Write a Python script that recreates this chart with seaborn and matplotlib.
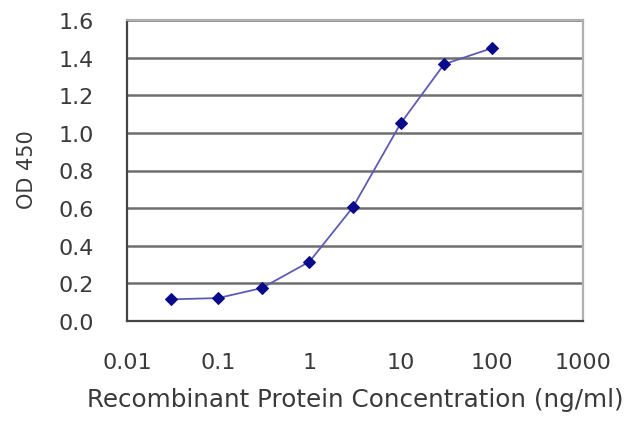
import matplotlib
matplotlib.use("Agg")
import matplotlib.pyplot as plt
import seaborn as sb
import pandas as pd
from matplotlib.ticker import FixedLocator, FixedFormatter, NullLocator

# values
concentration = [0.03, 0.1, 0.3, 1, 3, 10, 30, 100]
od450 = [0.115, 0.122, 0.175, 0.315, 0.605, 1.05, 1.365, 1.45]
x_ticks = [0.01, 0.1, 1, 10, 100, 1000]
x_tick_labels = ["0.01", "0.1", "1", "10", "100", "1000"]
y_ticks = [0.0, 0.2, 0.4, 0.6, 0.8, 1.0, 1.2, 1.4, 1.6]

df = pd.DataFrame({"conc": concentration, "od": od450})

sb.set_style("white")
plt.rcParams["font.family"] = ["DejaVu Sans"]

fig = plt.figure(figsize=(6.4, 4.27), dpi=100)
ax = fig.add_axes([127 / 640, 1 - 322 / 427, (583 - 127) / 640, (322 - 21) / 427])

sb.lineplot(data=df, x="conc", y="od", ax=ax, color="#5c5cb4", linewidth=1.3,
            marker="D", markersize=6.5, markerfacecolor="#0a0a8a",
            markeredgecolor="#0a0a8a")

ax.set_xscale("log")
ax.set_xlim(0.01, 1000)
ax.set_ylim(0, 1.6)
ax.xaxis.set_major_locator(FixedLocator(x_ticks))
ax.xaxis.set_major_formatter(FixedFormatter(x_tick_labels))
ax.xaxis.set_minor_locator(NullLocator())
ax.set_yticks(y_ticks)
ax.set_yticklabels([f"{v:.1f}" for v in y_ticks])

ax.yaxis.grid(True, color="#6e6e6e", linewidth=1.8)
ax.set_axisbelow(True)
for side in ["left", "bottom"]:
    ax.spines[side].set_color("#444444")
    ax.spines[side].set_linewidth(1.6)
for side in ["top", "right"]:
    ax.spines[side].set_color("#b0b0b0")
    ax.spines[side].set_linewidth(1.6)

ax.tick_params(axis="x", direction="inout", length=8, width=1.3, color="#555555",
               labelsize=16, labelcolor="#3a3a3a", pad=18)
ax.tick_params(axis="y", direction="out", length=3, width=1.3, color="#555555",
               labelsize=16, labelcolor="#3a3a3a", pad=21)

ax.set_xlabel("Recombinant Protein Concentration (ng/ml)", fontsize=17.7,
              color="#3a3a3a", va="center")
ax.xaxis.set_label_coords(0.5, -0.259)
ax.set_ylabel("OD 450", fontsize=15, color="#3a3a3a", va="center")
ax.yaxis.set_label_coords(-0.22, 0.505)

fig.savefig("out.png", dpi=100)
